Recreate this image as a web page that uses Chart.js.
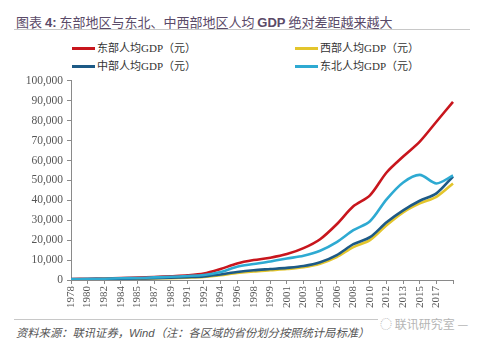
<!DOCTYPE html>
<html>
<head>
<meta charset="utf-8">
<script src="https://cdn.jsdelivr.net/npm/chart.js@4"></script>
<style>
    body { margin: 0; width: 479px; height: 352px; background: #fff; position: relative; overflow: hidden; font-family: 'Liberation Serif', 'Noto Sans CJK SC', serif; }
    .title { position: absolute; left: 16px; top: 12px; font-family: 'Noto Sans CJK SC', sans-serif; font-size: 13px; color: #5a4a68; white-space: nowrap; }
    .title b { font-family: 'Liberation Sans', 'Noto Sans CJK SC', sans-serif; }
    .rule { position: absolute; left: 14px; width: 456px; height: 1px; background: #c8c8c8; }
    .legend-item { position: absolute; font-size: 11px; color: #333; white-space: nowrap; line-height: 14px; }
    .legend-item .swatch { display: inline-block; width: 23px; height: 3px; vertical-align: middle; margin-right: 2px; position: relative; top: -1px; }
    .legend-item span.txt { font-family: 'Liberation Serif', 'Noto Sans CJK SC', serif; }
    #chartBox { position: absolute; left: 0; top: 70px; width: 479px; height: 245px; }
    .source { position: absolute; left: 16px; top: 324px; font-size: 11.3px; font-style: italic; color: #555; font-family: 'Noto Sans CJK SC', sans-serif; white-space: nowrap; }
    .source i { font-family: 'Liberation Sans', sans-serif; }
    .mark { position: absolute; left: 378px; top: 315px; font-size: 12px; color: #b5b5b5; background: #fff; padding: 0 2px; font-family: 'Noto Sans CJK SC', sans-serif; white-space: nowrap; }
</style>
</head>
<body>
<div class="title">图表 <b>4:</b> 东部地区与东北、中西部地区人均 <b>GDP</b> 绝对差距越来越大</div>
<div class="rule" style="top:29px"></div>
<div id="legend"></div>
<div id="chartBox"><canvas id="chart" width="479" height="245"></canvas></div>
<div class="rule" style="top:319px"></div>
<div class="mark">◌ 联讯研究室 —</div>
<div class="source">资料来源：联讯证券，<i>Wind</i>（注：各区域的省份划分按照统计局标准）</div>

<script>
// x 轴标签（最后一个类别不显示标签）
const years = ['1978','1980','1982','1984','1985','1987','1989','1991','1992','1994','1996','1998',
               '1999','2001','2003','2005','2006','2008','2010','2012','2013','2015','2017','2018'];

const eastGdp = [500, 600, 750, 950, 1200, 1500, 1900, 2300, 3200, 5500, 8300, 10000,
                 11200, 13000, 16000, 20500, 28000, 37000, 42500, 54000, 62000, 69500, 79500, 89500];
const westGdp = [300, 350, 450, 550, 650, 800, 950, 1200, 1500, 2400, 3500, 4300,
                 4900, 5500, 6400, 8200, 11500, 16500, 20000, 27500, 34000, 38500, 41800, 48500];
const centralGdp = [350, 400, 500, 600, 750, 900, 1100, 1400, 1800, 2800, 4000, 4900,
                    5500, 6100, 7000, 8900, 12500, 18000, 21500, 29000, 35000, 39800, 43500, 52000];
const northeastGdp = [450, 550, 650, 850, 1000, 1300, 1600, 2000, 2500, 4000, 6700, 8000,
                      9300, 10800, 12200, 14700, 19000, 25000, 29500, 40500, 49000, 52800, 48500, 52500];

const yTicks = { min: 0, max: 100000, step: 10000 };

const seriesNames = ['东部人均GDP（元）', '西部人均GDP（元）', '中部人均GDP（元）', '东北人均GDP（元）'];
const seriesData = [eastGdp, westGdp, centralGdp, northeastGdp];
const seriesColors = ['#c8161d', '#e3c52c', '#1d5a86', '#2eaad2'];

// 图例：两列两行
const legendPos = [[72, 41], [295, 41], [72, 59], [295, 59]];
document.getElementById('legend').innerHTML = seriesNames.map((name, i) =>
    `<div class="legend-item" style="left:${legendPos[i][0]}px;top:${legendPos[i][1]}px">` +
    `<span class="swatch" style="background:${seriesColors[i]}"></span><span class="txt">${name}</span></div>`
).join('');

const axisFont = { family: "'Liberation Serif', serif", size: 11.5 };

new Chart(document.getElementById('chart').getContext('2d'), {
    type: 'line',
    data: {
        labels: years,
        datasets: seriesNames.map((name, i) => ({
            label: name,
            data: seriesData[i],
            borderColor: seriesColors[i],
            backgroundColor: seriesColors[i],
            borderWidth: 2.6,
            pointRadius: 0,
            tension: 0.3,
            order: 4 - i
        }))
    },
    options: {
        responsive: false,
        animation: false,
        layout: { padding: { top: 6, right: 26, left: 0, bottom: 0 } },
        plugins: { legend: { display: false }, tooltip: { enabled: false } },
        scales: {
            x: {
                offset: false,
                grid: { drawOnChartArea: false, drawTicks: true, tickLength: 4, color: '#8a8a8a' },
                border: { color: '#8a8a8a' },
                ticks: {
                    autoSkip: false,
                    minRotation: 90,
                    maxRotation: 90,
                    padding: 2,
                    color: '#555',
                    font: { family: "'Liberation Serif', serif", size: 11 },
                    callback: (v, i) => i === years.length - 1 ? '' : years[i]
                },
                afterFit: scale => { scale.height = 35; }
            },
            y: {
                min: yTicks.min,
                max: yTicks.max,
                grid: { drawOnChartArea: false, drawTicks: true, tickLength: 4, color: '#8a8a8a' },
                border: { color: '#8a8a8a' },
                ticks: {
                    stepSize: yTicks.step,
                    padding: 4,
                    color: '#555',
                    font: axisFont,
                    callback: v => v.toLocaleString('en-US')
                },
                afterFit: scale => { scale.width = 71; }
            }
        }
    }
});
</script>
</body>
</html>
